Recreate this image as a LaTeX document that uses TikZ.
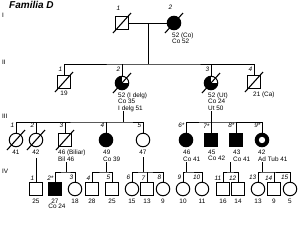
\documentclass[tikz,border=0pt]{standalone}
\usepackage{fontspec}
\setmainfont{Liberation Sans}
\usetikzlibrary{calc}

\begin{document}
\begin{tikzpicture}[x=1pt,y=-1pt,
  every node/.style={font=\fontsize{6.4}{6.6}\selectfont},
  ind/.style={draw,line width=1pt,inner sep=0pt,fill=white},
  male/.style={ind,rectangle,minimum size=12.5pt},
  female/.style={ind,circle,minimum size=13.5pt},
  aff/.style={fill=black},
  part/.style={aff,path picture={\fill[white] (path picture bounding box.center) rectangle (path picture bounding box.north east);}},
  check/.style={path picture={\fill (path picture bounding box.center) rectangle (path picture bounding box.north west);
    \fill (path picture bounding box.center) rectangle (path picture bounding box.south east);}},
  band/.style={path picture={\fill ([yshift=-2pt]path picture bounding box.north west) rectangle ([yshift=-1pt]path picture bounding box.east);}},
  ring/.style={aff,path picture={\fill[white] (path picture bounding box.center) circle (3.2pt);}},
  num/.style={font=\fontsize{6.4}{6.4}\selectfont\itshape,inner sep=0pt,anchor=south east,xshift=-1.5pt},
  info/.style={anchor=north west,align=left,inner sep=0pt},
  age/.style={anchor=north,inner sep=0pt},
  rel/.style={line width=0.9pt},
  dead/.style={line width=1.1pt},
  gen/.style={anchor=west,inner sep=0pt}]
  \useasboundingbox (0,0) rectangle (300,226);
  \newcommand\slashind[1]{\draw[dead] ([shift={(-9,10)}]#1.center) -- ([shift={(9,-10)}]#1.center);}

  \node[font=\fontsize{10}{10}\selectfont\bfseries\itshape,anchor=west,inner sep=0pt] (title) at (9,5) {Familia D};
  \node[gen] (gI) at (2,15) {I};
  \node[gen] (gII) at (2,62) {II};
  \node[gen] (gIII) at (2,116) {III};
  \node[gen] (gIV) at (2,171) {IV};

  % generation I
  \begin{scope}[label distance=6pt]
    \node[male,label={[num]north:1}] (I1) at (122,23) {};
    \node[female,aff,label={[num]north:2}] (I2) at (174,23) {};
  \end{scope}
  \node[info] (I2t) at ([shift={(-2,2)}]I2.south) {52 (Co)\\Co 52};
  \slashind{I1} \slashind{I2}

  % generation II
  \begin{scope}[label distance=4pt]
    \node[male,label={[num]north:1}] (II1) at (64,82) {};
    \node[female,part,label={[num]north:2}] (II2) at (122,83) {};
    \node[female,part,label={[num]north:3}] (II3) at (211,83) {};
    \node[male,band,label={[num]north:4}] (II4) at (254,82) {};
  \end{scope}
  \node[age] (II1t) at ([yshift=-2.5pt]II1.south) {19};
  \node[info] (II2t) at ([shift={(-4,2)}]II2.south) {52 (I delg)\\Co 35\\I delg 51};
  \node[info] (II3t) at ([shift={(-3,2)}]II3.south) {52 (Ut)\\Co 24\\Ut 50};
  \node[info] (II4t) at ([shift={(-1,2.5)}]II4.south) {21 (Ca)};
  \slashind{II1} \slashind{II2} \slashind{II3} \slashind{II4}

  \coordinate (m1) at ($(I1)!.5!(I2)$);
  \coordinate (s2) at (148,64);
  \draw[rel] (I1) -- (I2);
  \draw[rel] (m1) -- (s2);
  \draw[rel] (II1.north) |- (s2) -| (II4.north);
  \draw[rel] (II2.north) -- (II2.north |- s2);
  \draw[rel] (II3.north) -- (II3.north |- s2);

  % generation III
  \begin{scope}[label distance=5pt]
    \node[female,label={[num]north:1}] (III1) at (16,140) {};
    \node[female,label={[num]north:2}] (III2) at (36,140) {};
    \node[male,check,label={[num]north:3}] (III3) at (65,140) {};
    \node[female,aff,label={[num]north:4}] (III4) at (106,140) {};
    \node[female,label={[num]north:5}] (III5) at (143,140) {};
    \node[female,aff,label={[num]north:6*}] (III6) at (186,140) {};
    \node[male,aff,label={[num]north:7*}] (III7) at (211,140) {};
    \node[male,aff,label={[num]north:8*}] (III8) at (236,140) {};
    \node[female,ring,label={[num]north:9*}] (III9) at (262,140) {};
  \end{scope}
  \node[age] (III1t) at ([yshift=-3pt]III1.south) {41};
  \node[age] (III2t) at ([yshift=-3pt]III2.south) {42};
  \node[info] (III3t) at ([shift={(-7,3)}]III3.south) {46 (Biliar)\\Bil 46};
  \node[info] (III4t) at ([shift={(-3,3)}]III4.south) {49\\Co 39};
  \node[age] (III5t) at ([yshift=-3pt]III5.south) {47};
  \node[info] (III6t) at ([shift={(-3,3)}]III6.south) {46\\Co 41};
  \node[info] (III7t) at ([shift={(-3,3)}]III7.south) {45\\Co 42};
  \node[info] (III8t) at ([shift={(-3,3)}]III8.south) {43\\Co 41};
  \node[info] (III9t) at ([shift={(-4,3)}]III9.south) {42\\Ad Tub 41};
  \slashind{III1} \slashind{III2} \slashind{III3}

  \coordinate (d2) at (123,111);
  \coordinate (s3a) at (123,122);
  \coordinate (d3) at (211,111);
  \coordinate (s3b) at (211,122);
  \draw[rel] (d2) -- (s3a);
  \draw[rel] (III1.north) |- (s3a) -| (III5.north);
  \foreach \k in {III2,III3,III4}
    \draw[rel] (\k.north) -- (\k.north |- s3a);
  \draw[rel] (d3) -- (III7.north);
  \draw[rel] (III6.north) |- (s3b) -| (III9.north);
  \draw[rel] (III8.north) -- (III8.north |- s3b);

  % generation IV
  \begin{scope}[label distance=2pt]
    \node[male,label={[num]north:1}] (IV1) at (36,189) {};
    \node[male,aff,label={[num]north:2*}] (IV2) at (55,189) {};
    \node[female,label={[num]north:3}] (IV3) at (75,189) {};
    \node[male,label={[num]north:4}] (IV4) at (92,189) {};
    \node[male,label={[num]north:5}] (IV5) at (112,189) {};
    \node[female,label={[num]north:6}] (IV6) at (132,189) {};
    \node[male,label={[num]north:7}] (IV7) at (147,189) {};
    \node[female,label={[num]north:8}] (IV8) at (163,189) {};
    \node[female,label={[num]north:9}] (IV9) at (183,189) {};
    \node[female,label={[num]north:10}] (IV10) at (202,189) {};
    \node[male,label={[num]north:11}] (IV11) at (223,189) {};
    \node[male,label={[num]north:12}] (IV12) at (238,189) {};
    \node[female,label={[num]north:13}] (IV13) at (258,189) {};
    \node[male,label={[num]north:14}] (IV14) at (274,189) {};
    \node[female,label={[num]north:15}] (IV15) at (290,189) {};
  \end{scope}
  \foreach \k/\a in {IV1/25,IV2/27,IV3/18,IV4/28,IV5/25,IV6/15,IV7/13,IV8/9,
                     IV9/10,IV10/11,IV11/16,IV12/14,IV13/13,IV14/9,IV15/5}
    \node[age] (\k t) at ([yshift=-3pt]\k.south) {\a};
  \node[age] (IV2c) at ([xshift=2pt]IV2t.south) {Co 24};

  \coordinate (d32) at (36,158);
  \draw[rel] (d32) -- (IV1.north);
  \coordinate (d33) at (66,162);
  \coordinate (s43) at (66,172);
  \draw[rel] (d33) -- (s43);
  \draw[rel] (IV2.north) |- (s43) -| (IV3.north);
  \coordinate (d34) at (106,162);
  \coordinate (s44) at (106,172);
  \draw[rel] (d34) -- (s44);
  \draw[rel] (IV4.north) |- (s44) -| (IV5.north);
  \coordinate (d35) at (143,157);
  \coordinate (s45) at (143,172);
  \draw[rel] (d35) -- (s45);
  \draw[rel] (IV6.north) |- (s45) -| (IV8.north);
  \draw[rel] (IV7.north) -- (IV7.north |- s45);
  \coordinate (d36) at (186,162);
  \coordinate (s46) at (186,172);
  \draw[rel] (d36) -- (s46);
  \draw[rel] (IV9.north) |- (s46) -| (IV10.north);
  \coordinate (d38) at (230,162);
  \coordinate (s48) at (230,172);
  \draw[rel] (d38) -- (s48);
  \draw[rel] (IV11.north) |- (s48) -| (IV12.north);
  \coordinate (d39) at (262,162);
  \coordinate (s49) at (262,172);
  \draw[rel] (d39) -- (s49);
  \draw[rel] (IV13.north) |- (s49) -| (IV15.north);
  \draw[rel] (IV14.north) -- (IV14.north |- s49);
\end{tikzpicture}
\end{document}
